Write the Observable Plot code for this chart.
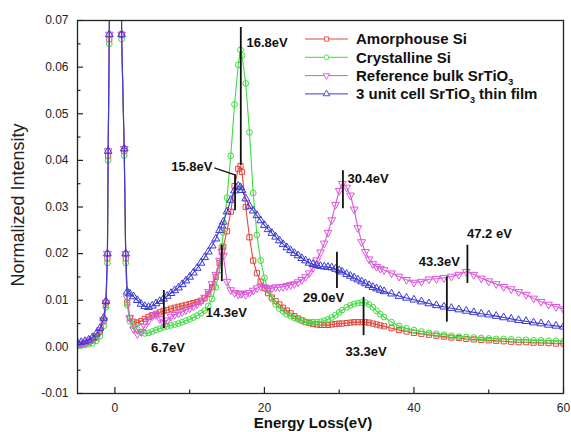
<!DOCTYPE html>
<html><head><meta charset="utf-8">
<script src="https://cdn.jsdelivr.net/npm/d3@7"></script>
<script src="https://cdn.jsdelivr.net/npm/@observablehq/plot@0.6"></script>
<style>body{margin:0;background:#fff;} #chart svg{display:block;}</style>
</head><body><div id="chart"></div>
<script>
// ---- data ----
const energy = [
 -5,-4.5,-4,-3.5,-3,-2.5,-2,-1.5,-1.2,-1,-0.9,-0.75,-0.5,0,0.5,0.9,1.25,1.45,1.65,
 2,2.5,3,3.5,4,4.5,5,5.5,6,6.5,7,7.5,8,8.5,9,9.5,10,10.5,11,11.5,12,12.5,13,13.5,14,
 14.3,14.5,15,15.5,16,16.5,16.8,17,
 17.5,18,18.5,19,19.5,20,20.5,21,21.5,22,22.5,23,23.5,24,24.5,25,25.5,26,26.5,27,27.5,28,28.5,29,29.5,30,
 30.4,31,31.5,32,32.5,33,33.5,34,34.5,35,35.5,36,
 37,38,39,40,41,42,43,44,45,46,47,48,49,50,51,52,53,54,55,56,57,58,59,60
];
const amorphousSi = [
 .0005,.0006,.0008,.0010,.0014,.0020,.0032,.0055,.0090,.019,.041,.066,.15,.8,.2,.067,.042,.019,.0095,
 .0062,.0054,.0052,.0055,.0060,.0064,.0068,.0071,.0074,.0077,.0079,.0082,.0084,.0086,.0088,.0090,.0092,.0094,.0096,.0099,.0104,.0113,.0128,.0150,.0180,
 .0203,.0215,.0248,.0290,.0345,.0382,.0388,.0375,
 .0300,.0235,.0185,.0158,.0140,.0126,.0115,.0106,.0098,.0091,.0084,.0078,.0072,.0066,.0061,.0057,.0053,.0051,.0049,.0048,.0047,.0047,.0047,.0048,.0049,.0050,
 .0050,.0051,.0052,.0053,.0053,.0053,.0053,.0052,.0050,.0048,.0046,.0044,
 .0040,.0036,.0033,.0030,.0028,.0026,.0024,.0022,.0020,.0019,.0017,.0016,.0015,.0014,.0013,.0012,.0011,.0010,.0010,.0009,.0009,.0008,.0007,.0007
];
const crystallineSi = [
 .0002,.0003,.0004,.0006,.0008,.0013,.0023,.0045,.0085,.018,.040,.065,.15,.8,.2,.066,.041,.018,.0090,
 .0055,.0045,.0038,.0032,.0029,.0030,.0033,.0036,.0039,.0042,.0044,.0046,.0048,.0050,.0053,.0056,.0059,.0063,.0067,.0072,.0078,.0088,.0103,.0128,.0165,
 .0215,.0245,.0320,.0410,.0520,.0605,.0637,.0625,
 .0565,.0460,.0330,.0240,.0185,.0148,.0122,.0103,.0091,.0082,.0076,.0070,.0066,.0062,.0059,.0056,.0054,.0053,.0053,.0053,.0054,.0056,.0059,.0063,.0068,.0074,
 .0079,.0085,.0089,.0092,.0094,.0095,.0095,.0091,.0085,.0077,.0070,.0064,
 .0053,.0045,.0040,.0036,.0033,.0030,.0028,.0026,.0024,.0022,.0021,.0020,.0019,.0018,.0017,.0017,.0016,.0015,.0015,.0014,.0014,.0013,.0013,.0012
];
const bulkSrTiO3 = [
 .0006,.0007,.0009,.0012,.0016,.0024,.0036,.0058,.0095,.020,.042,.067,.15,.8,.2,.067,.0425,.020,.0105,
 .0062,.0038,.0028,.0032,.0044,.0057,.0066,.0069,.0060,.0052,.0057,.0065,.0069,.0072,.0075,.0079,.0083,.0087,.0092,.0098,.0106,.0118,.0135,.0155,.0185,
 .0205,.0196,.0140,.0122,.0116,.0113,.0114,.0115,
 .0112,.0116,.0121,.0126,.0130,.0128,.0125,.0126,.0128,.0128,.0129,.0131,.0133,.0135,.0139,.0144,.0150,.0158,.0170,.0186,.0203,.0222,.0245,.0272,.0305,.0335,
 .0350,.0342,.0325,.0295,.0255,.0225,.0204,.0188,.0178,.0172,.0168,.0165,
 .0158,.0151,.0144,.0138,.0140,.0145,.0146,.0148,.0151,.0155,.0161,.0155,.0147,.0141,.0135,.0129,.0124,.0118,.0112,.0104,.0097,.0091,.0086,.0081
];
const filmSrTiO3 = [
 .0009,.0010,.0012,.0015,.0020,.0028,.0040,.0062,.0098,.020,.042,.067,.15,.8,.2,.067,.0425,.020,.0118,
 .0114,.0108,.0100,.0092,.0087,.0085,.0088,.0093,.0098,.0103,.0109,.0115,.0121,.0127,.0134,.0142,.0150,.0159,.0169,.0180,.0192,.0204,.0217,.0232,.0250,
 .0260,.0268,.0290,.0315,.0335,.0345,.0342,.0336,
 .0318,.0302,.0292,.0282,.0271,.0261,.0252,.0244,.0236,.0228,.0220,.0213,.0207,.0201,.0196,.0190,.0185,.0180,.0177,.0175,.0173,.0172,.0171,.0170,.0167,.0164,
 .0161,.0156,.0152,.0148,.0144,.0140,.0136,.0132,.0128,.0125,.0122,.0119,
 .0114,.0109,.0105,.0101,.0097,.0093,.0089,.0086,.0083,.0080,.0077,.0074,.0071,.0069,.0066,.0063,.0060,.0057,.0055,.0052,.0050,.0047,.0045,.0043
];
const seriesNames = ["Amorphouse Si", "Crystalline Si", "Reference bulk SrTiO3", "3 unit cell SrTiO3 thin film"];
const seriesValues = [amorphousSi, crystallineSi, bulkSrTiO3, filmSrTiO3];
const seriesColors = ["#e3473b", "#3fdc3f", "#dd55dd", "#3a3ad4"];

const xMajorTicks = [0, 20, 40, 60];
const xMinorTicks = [10, 30, 50];
const yMajorTicks = [-0.01, 0, 0.01, 0.02, 0.03, 0.04, 0.05, 0.06, 0.07];
const yMinorTicks = [-0.005, 0.005, 0.015, 0.025, 0.035, 0.045, 0.055, 0.065];

// peak marker lines: energy, top, bottom
const peakTickE      = [6.55, 14.3, 16.07, 16.84, 29.7, 30.5, 33.26, 44.4, 47.15];
const peakTickTop    = [.0121, .0218, .0369, .0685, .0203, .0378, .0106, .0150, .0218];
const peakTickBottom = [.0039, .0140, .0292, .0389, .0125, .0296, .0024, .0053, .0136];
// peak labels
const peakLabelText   = ["6.7eV", "14.3eV", "15.8eV", "16.8eV", "29.0eV", "30.4eV", "33.3eV", "43.3eV", "47.2 eV"];
const peakLabelE      = [7.1, 14.9, 13.05, 17.6, 27.9, 31.1, 33.6, 43.4, 47.1];
const peakLabelI      = [-0.0001, .0074, .0386, .0653, .0106, .0360, -.0011, .0182, .0243];
const peakLabelAnchor = ["middle", "middle", "end", "start", "middle", "start", "middle", "middle", "start"];
// leader from the 15.8eV label to its marker
const leaderE = [13.3, 16.07];
const leaderI = [.0384, .0369];

// ---- build ----
const W = 571, H = 432, mL = 77, mR = 8, mT = 20, mB = 39;
const plotW = W - mL - mR, plotH = H - mT - mB;
const FONT = "'Liberation Sans', Arial, Helvetica, sans-serif";

const triangleDown = {
  draw(context, size) {
    const h = Math.sqrt(size / (Math.sqrt(3) * 3));
    context.moveTo(0, 2 * h);
    context.lineTo(-Math.sqrt(3) * h, -h);
    context.lineTo(Math.sqrt(3) * h, -h);
    context.closePath();
  }
};
const seriesSymbols = ["square", "circle", triangleDown, "triangle"];

const seriesMarks = [];
seriesNames.forEach((name, i) => {
  const rows = energy.map((e, j) => ({e, v: seriesValues[i][j]}));
  seriesMarks.push(Plot.line(rows, {x: "e", y: "v", stroke: seriesColors[i], strokeWidth: 1.1, clip: true}));
  seriesMarks.push(Plot.dot(rows, {x: "e", y: "v", symbol: seriesSymbols[i], r: 2.9, stroke: seriesColors[i], strokeWidth: 1, fill: "none", clip: true}));
});

const tickRows = peakTickE.map((e, i) => ({e, top: peakTickTop[i], bottom: peakTickBottom[i]}));
const labelRows = peakLabelText.map((t, i) => ({t, e: peakLabelE[i], v: peakLabelI[i], a: peakLabelAnchor[i]}));

const textMarks = ["start", "middle", "end"].map(a =>
  Plot.text(labelRows.filter(d => d.a === a), {x: "e", y: "v", text: "t", textAnchor: a,
    fontWeight: "bold", fontSize: 13, fill: "#111"}));

const plot = Plot.plot({
  width: W, height: H,
  marginLeft: mL, marginRight: mR, marginTop: mT, marginBottom: mB,
  style: {fontFamily: FONT, fontSize: "12px", background: "#fff", color: "#222"},
  x: {domain: [-5, 60]},
  y: {domain: [-0.01, 0.07]},
  marks: [
    Plot.axisX({ticks: xMajorTicks, tickSize: 0, tickPadding: 10, label: null, tickFormat: d => String(d), fontSize: 12}),
    Plot.axisY({ticks: yMajorTicks, tickSize: 0, tickPadding: 9, label: null, tickFormat: d => d.toFixed(2), fontSize: 12}),
    Plot.tickX(xMajorTicks, {x: d => d, insetTop: plotH - 6, stroke: "#222", strokeWidth: 1.2}),
    Plot.tickX(xMinorTicks, {x: d => d, insetTop: plotH - 3.5, stroke: "#222", strokeWidth: 1.2}),
    Plot.tickY(yMajorTicks, {y: d => d, insetRight: plotW - 6, stroke: "#222", strokeWidth: 1.2}),
    Plot.tickY(yMinorTicks, {y: d => d, insetRight: plotW - 3.5, stroke: "#222", strokeWidth: 1.2}),
    ...seriesMarks,
    Plot.ruleX(tickRows, {x: "e", y1: "top", y2: "bottom", stroke: "#111", strokeWidth: 1.8}),
    Plot.link([0], {x1: () => leaderE[0], y1: () => leaderI[0], x2: () => leaderE[1], y2: () => leaderI[1], stroke: "#111", strokeWidth: 1.4}),
    ...textMarks,
    Plot.frame({stroke: "#222", strokeWidth: 1.3})
  ]
});

const svg = d3.select(plot);
// axis titles
svg.append("text").attr("x", 313).attr("y", 428).attr("text-anchor", "middle")
  .attr("font-family", FONT).attr("font-weight", "bold").attr("font-size", 15).attr("fill", "#111")
  .text("Energy Loss(eV)");
svg.append("text").attr("transform", "translate(24,205) rotate(-90)").attr("text-anchor", "middle")
  .attr("font-family", FONT).attr("font-size", 18).attr("fill", "#222")
  .text("Normalized Intensity");

// legend
const lg = svg.append("g").attr("font-family", FONT).attr("font-weight", "bold").attr("font-size", 15)
  .attr("fill", "#111").attr("text-anchor", "start");
seriesNames.forEach((name, i) => {
  const cy = 39 + i * 18.3;
  lg.append("line").attr("x1", 305).attr("x2", 348).attr("y1", cy).attr("y2", cy)
    .attr("stroke", seriesColors[i]).attr("stroke-width", 1);
  const symType = typeof seriesSymbols[i] === "string"
    ? {square: d3.symbolSquare, circle: d3.symbolCircle, triangle: d3.symbolTriangle}[seriesSymbols[i]]
    : seriesSymbols[i];
  lg.append("path").attr("d", d3.symbol(symType, 18)()).attr("transform", `translate(326.5,${cy})`)
    .attr("fill", "#fff").attr("stroke", seriesColors[i]).attr("stroke-width", 0.9);
  const t = lg.append("text").attr("x", 356).attr("y", cy).attr("dy", "0.36em").attr("text-anchor", "start");
  if (name.includes("SrTiO3")) {
    const [before, after] = name.split("SrTiO3");
    t.append("tspan").text(before + "SrTiO");
    t.append("tspan").attr("font-size", 9).attr("dy", 3.5).text("3");
    t.append("tspan").attr("dy", -3.5).text(after);
  } else {
    t.text(name);
  }
});

document.getElementById("chart").appendChild(plot);
</script>
</body></html>
